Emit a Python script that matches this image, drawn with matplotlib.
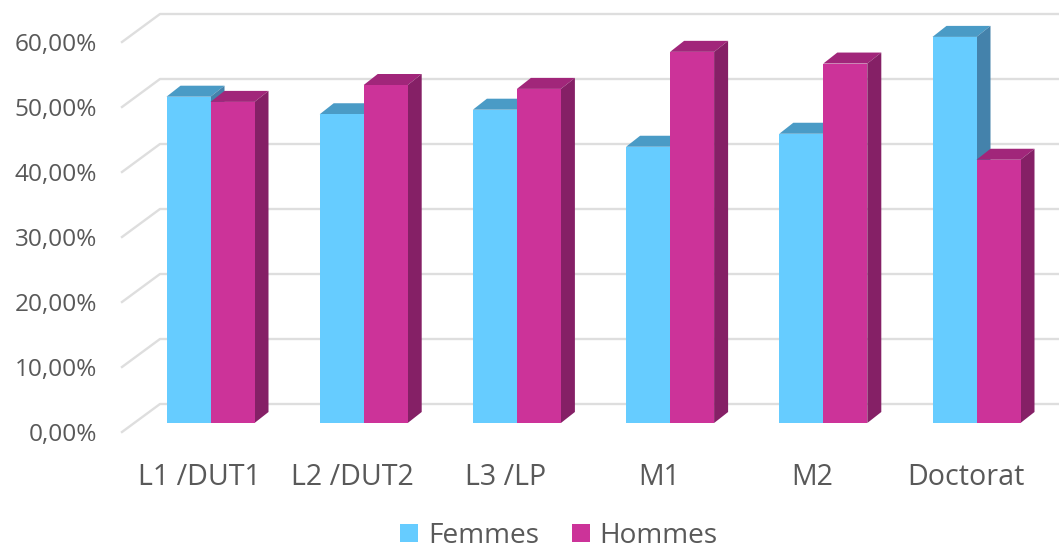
import matplotlib
matplotlib.use("Agg")
import matplotlib.pyplot as plt

plt.rcParams['font.family'] = ['Open Sans', 'DejaVu Sans']

categories = ["L1 /DUT1", "L2 /DUT2", "L3 /LP", "M1", "M2", "Doctorat"]
femmes = [50.2, 47.5, 48.2, 42.5, 44.5, 59.4]
hommes = [49.4, 52.0, 51.4, 57.1, 55.3, 40.5]
y_ticks = [0, 10, 20, 30, 40, 50, 60]
y_labels = ["0,00%", "10,00%", "20,00%", "30,00%", "40,00%", "50,00%", "60,00%"]

W, H = 1059, 550
TEXT = "#595959"
GRID = "#DEDEDE"

# pixel scales of the chart
px_per_cat = 153.2
px_per_pct = 6.5
ax_left, ax_bottom = 122, 432

fig = plt.figure(figsize=(W / 100, H / 100), dpi=100)
ax = fig.add_axes([ax_left / W, (H - ax_bottom) / H, (W - ax_left) / W, ax_bottom / H])
ax.set_xlim((ax_left - 210.5) / px_per_cat, (W - 210.5) / px_per_cat)
ax.set_ylim(0, ax_bottom / px_per_pct)
ax.patch.set_alpha(0)
for s in ax.spines.values():
    s.set_visible(False)

# depth of the bars and of the floor, in data units
bar_w = 44 / px_per_cat
dx = 14 / px_per_cat
dy = 11 / px_per_pct
base = 9 / px_per_pct
wall_x = 38 / px_per_cat
wall_y = 28 / px_per_pct

# back wall gridlines with the diagonal going to the front
x0 = ax.get_xlim()[0]
x1 = ax.get_xlim()[1]
for v in y_ticks:
    ax.plot([x0, x0 + wall_x, x1], [v, v + wall_y, v + wall_y], color=GRID, lw=1.7, zorder=1,
            solid_joinstyle="round", clip_on=False)


def draw_bars(xs, values, front, top, side, label, z):
    bars = ax.bar(xs, values, bar_w, bottom=base, color=front, label=label, zorder=z + 0.2)
    for x, v in zip(xs, values):
        l, r = x - bar_w / 2, x + bar_w / 2
        t = base + v
        ax.fill([l, r, r + dx, l + dx], [t, t, t + dy, t + dy], color=top, lw=0, zorder=z)
        ax.fill([r, r + dx, r + dx, r], [base, base + dy, t + dy, t], color=side, lw=0, zorder=z + 0.1)
    return bars


for i in range(len(categories)):
    draw_bars([i - bar_w / 2], [femmes[i]], "#66CCFF", "#4A9BC6", "#4482AB",
              "Femmes" if i == 0 else None, 2 + i)
    draw_bars([i + bar_w / 2], [hommes[i]], "#CC3399", "#A1267A", "#852066",
              "Hommes" if i == 0 else None, 2.5 + i)

# axis text, the category labels sit a little left of the bars
label_shift = 11 / px_per_cat
ax.set_yticks(y_ticks)
ax.set_yticklabels(y_labels, fontsize=17.6, color=TEXT)
ax.set_xticks([i - label_shift for i in range(len(categories))])
ax.set_xticklabels(categories, fontsize=20.6, color=TEXT)
ax.tick_params(axis="both", length=0)
ax.tick_params(axis="y", pad=18)
ax.tick_params(axis="x", pad=22.5)

fig.legend(loc="center", bbox_to_anchor=(559 / W, (H - 536) / H), ncol=2, frameon=False,
           fontsize=20.2, labelcolor=TEXT, handlelength=0.64, handleheight=0.64,
           handletextpad=0.36, columnspacing=1.15, borderpad=0)

fig.savefig("out.png", dpi=100, facecolor="white")
